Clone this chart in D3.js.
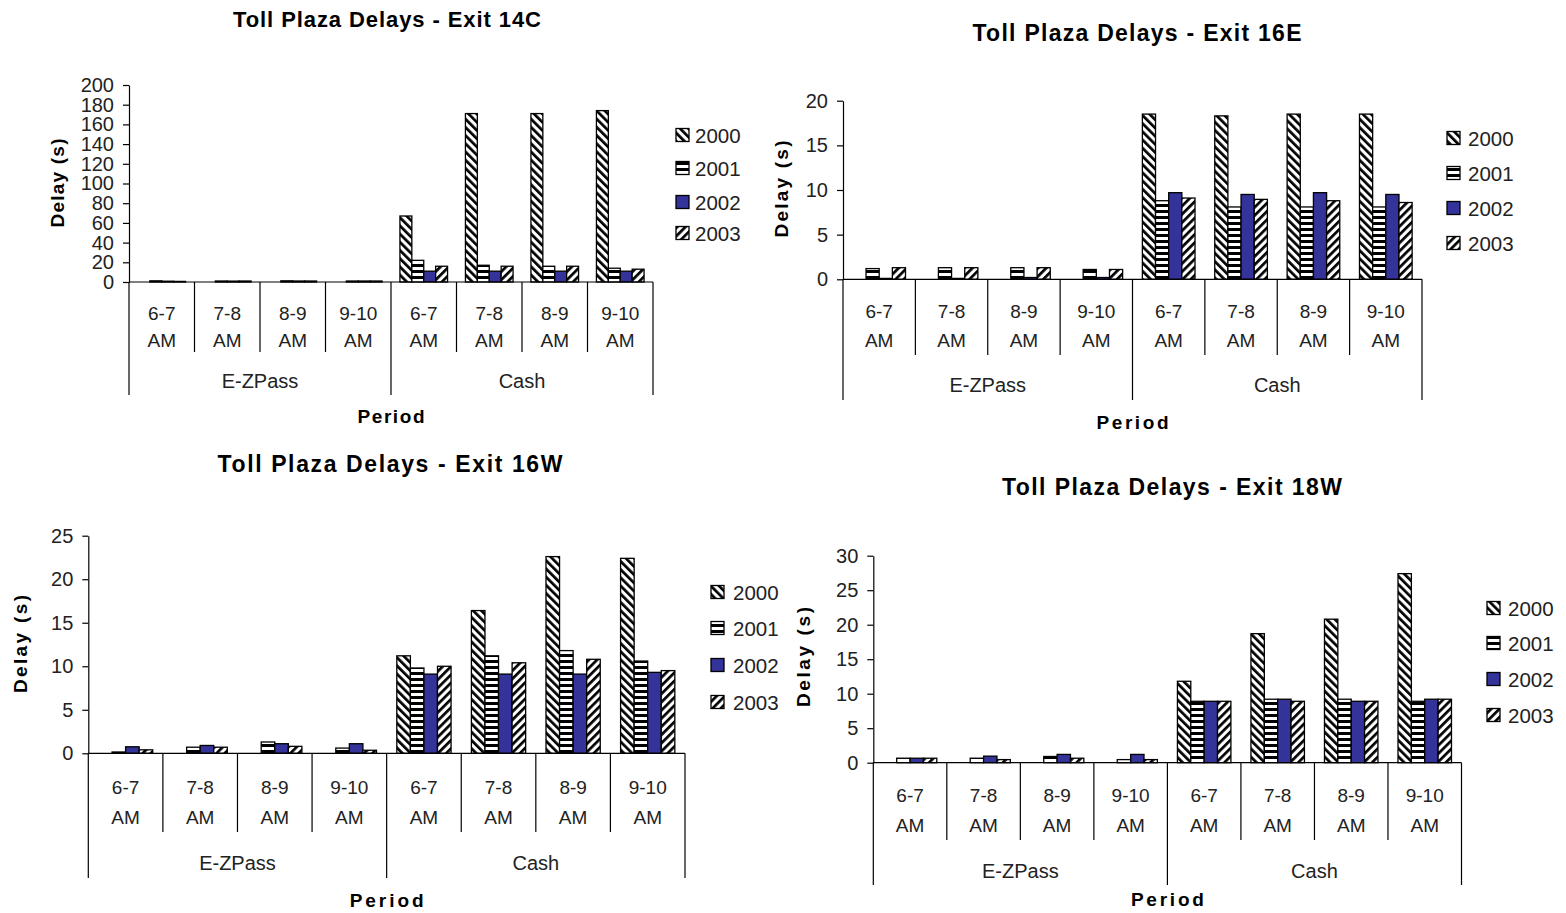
<!DOCTYPE html>
<html><head><meta charset="utf-8">
<script src="https://cdn.jsdelivr.net/npm/d3@7"></script>
<style>
html,body{margin:0;padding:0;background:#fff;overflow:hidden}
svg{display:block}
text{font-family:"Liberation Sans",Arial,sans-serif}
</style></head><body>
<svg id="chart" width="1566" height="913"></svg>
<script>
// ---- data -------------------------------------------------------------
const periods = ["6-7 AM", "7-8 AM", "8-9 AM", "9-10 AM"];
const payments = ["E-ZPass", "Cash"];
const years = ["2000", "2001", "2002", "2003"];

// delay in seconds: four E-ZPass periods, then four Cash periods
const exit14C_2000 = [null, null, null, null, 67, 171, 171, 174];
const exit14C_2001 = [1.2, 1, 1.2, 1, 22, 17, 16, 14];
const exit14C_2002 = [0.8, 0.9, 1, 1, 11, 11, 11, 11];
const exit14C_2003 = [0.6, 1, 1, 1, 16, 16, 16, 13];

const exit16E_2000 = [null, null, null, null, 18.5, 18.3, 18.5, 18.5];
const exit16E_2001 = [1.2, 1.3, 1.3, 1.1, 8.8, 8.1, 8.1, 8.1];
const exit16E_2002 = [0.1, 0.1, 0.2, 0.2, 9.7, 9.5, 9.7, 9.5];
const exit16E_2003 = [1.3, 1.3, 1.3, 1.1, 9.1, 8.95, 8.8, 8.6];

const exit16W_2000 = [null, null, null, null, 11.2, 16.4, 22.6, 22.4];
const exit16W_2001 = [0.15, 0.7, 1.3, 0.6, 9.8, 11.2, 11.8, 10.6];
const exit16W_2002 = [0.75, 0.9, 1.1, 1.1, 9.1, 9.1, 9.1, 9.3];
const exit16W_2003 = [0.4, 0.7, 0.8, 0.35, 10.0, 10.4, 10.8, 9.5];

const exit18W_2000 = [null, null, null, null, 11.8, 18.7, 20.8, 27.4];
const exit18W_2001 = [0.65, 0.65, 0.9, 0.45, 8.9, 9.2, 9.2, 8.9];
const exit18W_2002 = [0.65, 0.95, 1.2, 1.2, 8.9, 9.2, 8.9, 9.2];
const exit18W_2003 = [0.65, 0.45, 0.65, 0.45, 8.9, 8.9, 8.9, 9.2];

const ticks14C = [0, 20, 40, 60, 80, 100, 120, 140, 160, 180, 200];
const ticks16E = [0, 5, 10, 15, 20];
const ticks16W = [0, 5, 10, 15, 20, 25];
const ticks18W = [0, 5, 10, 15, 20, 25, 30];

// ---- panel layout -----------------------------------------------------
const panels = [
  { title: "Toll Plaza Delays - Exit 14C", series: [exit14C_2000, exit14C_2001, exit14C_2002, exit14C_2003], ticks: ticks14C,
    x0: 129, x1: 653, y0: 282, yTop: 85,
    titleX: 387, titleY: 27, titleLen: 308, titleSize: 22,
    ylabX: 57, ylabY: 183, ylabLen: 89,
    cat1: 320, cat2: 347, innerBottom: 352, groupY: 388, outerBottom: 395, periodY: 423, periodLen: 67,
    legSx: 676, legTx: 695, legRows: [135, 168, 202, 233] },
  { title: "Toll Plaza Delays - Exit 16E", series: [exit16E_2000, exit16E_2001, exit16E_2002, exit16E_2003], ticks: ticks16E,
    x0: 843, x1: 1422, y0: 279.3, yTop: 100.7,
    titleX: 1137, titleY: 41, titleLen: 329, titleSize: 23,
    ylabX: 781, ylabY: 189, ylabLen: 97,
    cat1: 318, cat2: 347, innerBottom: 355, groupY: 392, outerBottom: 400, periodY: 429, periodLen: 72,
    legSx: 1447, legTx: 1468, legRows: [138, 173, 208, 243] },
  { title: "Toll Plaza Delays - Exit 16W", series: [exit16W_2000, exit16W_2001, exit16W_2002, exit16W_2003], ticks: ticks16W,
    x0: 88.3, x1: 685, y0: 753.3, yTop: 535.7,
    titleX: 390, titleY: 472, titleLen: 345, titleSize: 23,
    ylabX: 20, ylabY: 644, ylabLen: 98,
    cat1: 794, cat2: 824, innerBottom: 832, groupY: 870, outerBottom: 878, periodY: 907, periodLen: 74,
    legSx: 711, legTx: 733, legRows: [592, 628, 665, 702] },
  { title: "Toll Plaza Delays - Exit 18W", series: [exit18W_2000, exit18W_2001, exit18W_2002, exit18W_2003], ticks: ticks18W,
    x0: 873.3, x1: 1461.5, y0: 762.7, yTop: 555.7,
    titleX: 1172, titleY: 495, titleLen: 340, titleSize: 23,
    ylabX: 803, ylabY: 657, ylabLen: 100,
    cat1: 802, cat2: 832, innerBottom: 840, groupY: 878, outerBottom: 885, periodY: 906, periodLen: 73,
    legSx: 1487, legTx: 1508, legRows: [608, 643, 679, 715] }
];

const svg = d3.select("#chart");

// ---- fill patterns ------------------------------------------------------
const defs = svg.append("defs");
function stripes(id, angle, period, thick) {
  const p = defs.append("pattern").attr("id", id)
    .attr("patternUnits", "userSpaceOnUse")
    .attr("width", period).attr("height", period)
    .attr("patternTransform", `rotate(${angle})`);
  p.append("rect").attr("width", period).attr("height", period).attr("fill", "#fff");
  p.append("rect").attr("width", thick).attr("height", period).attr("fill", "#000");
}
stripes("p2000", -45, 5.8, 2.7);
stripes("p2001", 90, 6, 3);
stripes("p2003", 45, 5.8, 2.7);
const fills = d3.scaleOrdinal().domain(years)
  .range(["url(#p2000)", "url(#p2001)", "#333399", "url(#p2003)"]);

const catKeys = payments.flatMap(g => periods.map(p => g + "|" + p));

panels.forEach(P => {
  const g = svg.append("g");
  const yMax = P.ticks[P.ticks.length - 1];
  const x = d3.scaleBand().domain(catKeys).range([P.x0, P.x1]).padding(0);
  const xs = d3.scaleBand().domain(years).range([0, x.bandwidth()])
    .paddingInner(0).paddingOuter(0.75);
  const y = d3.scaleLinear().domain([0, yMax]).range([P.y0, P.yTop]);

  // bars
  years.forEach((yr, i) => {
    const vals = P.series[i];
    g.append("g").selectAll("rect")
      .data(catKeys.map((k, j) => ({ k, v: vals[j] })).filter(d => d.v !== null))
      .join("rect")
      .attr("x", d => x(d.k) + xs(yr))
      .attr("y", d => y(d.v))
      .attr("width", xs.bandwidth())
      .attr("height", d => P.y0 - y(d.v))
      .attr("fill", fills(yr))
      .attr("stroke", "#000")
      .attr("stroke-width", 1.3);
  });

  // value axis
  const ax = g.append("g").attr("transform", `translate(${P.x0},0)`)
    .call(d3.axisLeft(y).tickValues(P.ticks).tickSize(6).tickSizeOuter(0).tickPadding(9));
  ax.selectAll("path,line").attr("stroke", "#000").attr("stroke-width", 1.2);
  ax.selectAll("text").attr("font-size", 20).attr("fill", "#222")
    .attr("font-family", '"Liberation Sans",Arial,sans-serif');

  // category axis
  g.append("line").attr("x1", P.x0).attr("x2", P.x1).attr("y1", P.y0).attr("y2", P.y0)
    .attr("stroke", "#000").attr("stroke-width", 1.2);
  const bounds = catKeys.map(k => x(k)).concat([P.x1]);
  g.selectAll(".sep").data(bounds).join("line")
    .attr("x1", d => d).attr("x2", d => d)
    .attr("y1", P.y0)
    .attr("y2", (d, i) => (i % periods.length === 0) ? P.outerBottom : P.innerBottom)
    .attr("stroke", "#000").attr("stroke-width", 1.2);

  const lab = g.append("g").attr("font-size", 19).attr("fill", "#222").attr("text-anchor", "middle");
  catKeys.forEach(k => {
    const parts = k.split("|")[1].split(" ");
    const cx = x(k) + x.bandwidth() / 2;
    lab.append("text").attr("x", cx).attr("y", P.cat1).text(parts[0]);
    lab.append("text").attr("x", cx).attr("y", P.cat2).text(parts[1]);
  });
  payments.forEach(p => {
    const a = x(p + "|" + periods[0]);
    const b = x(p + "|" + periods[periods.length - 1]) + x.bandwidth();
    lab.append("text").attr("x", (a + b) / 2).attr("y", P.groupY).attr("font-size", 20).text(p);
  });

  // titles
  g.append("text").attr("x", P.titleX).attr("y", P.titleY).attr("text-anchor", "middle")
    .attr("font-size", P.titleSize).attr("font-weight", "bold").attr("fill", "#000")
    .attr("textLength", P.titleLen).attr("lengthAdjust", "spacing").text(P.title);
  g.append("text").attr("x", (P.x0 + P.x1) / 2).attr("y", P.periodY).attr("text-anchor", "middle")
    .attr("font-size", 19).attr("font-weight", "bold").attr("fill", "#000")
    .attr("textLength", P.periodLen).attr("lengthAdjust", "spacing").text("Period");
  g.append("text").attr("transform", `translate(${P.ylabX},${P.ylabY}) rotate(-90)`)
    .attr("text-anchor", "middle").attr("dy", "0.35em")
    .attr("font-size", 19).attr("font-weight", "bold").attr("fill", "#000")
    .attr("textLength", P.ylabLen).attr("lengthAdjust", "spacing").text("Delay (s)");

  // legend
  const leg = g.append("g");
  years.forEach((yr, i) => {
    const cy = P.legRows[i];
    leg.append("rect").attr("x", P.legSx).attr("y", cy - 6.5).attr("width", 13).attr("height", 13)
      .attr("fill", fills(yr)).attr("stroke", "#000").attr("stroke-width", 1.3);
    leg.append("text").attr("x", P.legTx).attr("y", cy + 7.5).attr("font-size", 20.5)
      .attr("fill", "#222").text(yr);
  });
});
</script>
</body></html>
